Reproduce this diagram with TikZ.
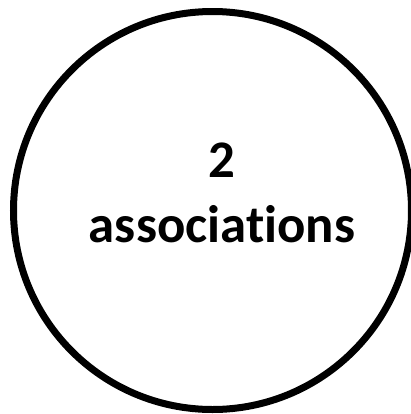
\documentclass[tikz,border=0pt]{standalone}
\usepackage{fontspec}
\setmainfont{Carlito}[Ligatures=NoCommon]
\begin{document}
\begin{tikzpicture}[x=1bp,y=-1bp,
  ring/.style={draw=black,line width=7bp},
  lbl/.style={font=\bfseries\fontsize{53}{65}\selectfont,anchor=base,inner sep=0pt}]
\useasboundingbox (0,0) rectangle (411,414);
\clip (0,0) rectangle (411,414);
\node[ring,circle,minimum size=398bp,inner sep=0pt] (c) at (212.5,210.5) {};
\node[lbl] (n) at (222,177) {2};
\node[lbl] (t) at (222,242) {associations};
\end{tikzpicture}
\end{document}
